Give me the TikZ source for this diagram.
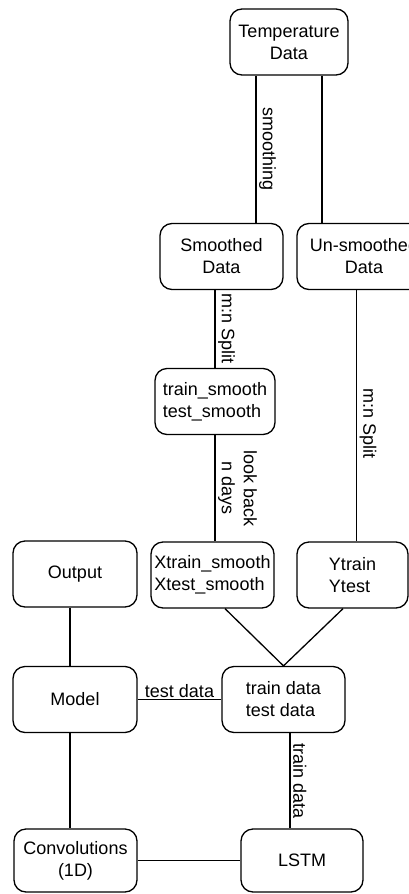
\documentclass[tikz,border=0pt]{standalone}
\usepackage{fontspec}
\setmainfont{Liberation Sans}
\usetikzlibrary{calc}
\definecolor{cInk}{HTML}{000000}
\tikzset{
  rbox/.style={draw=cInk,fill=white,rounded corners=12pt,line width=1.3pt,align=center,text=cInk,minimum width=#1,minimum height=66pt,inner sep=1pt},
  rbox/.default=122pt,
  lbox/.style={rbox=#1,align=left},
  lbox/.default=122pt,
  ln/.style={line width=1.3pt,color=cInk},
  vlbl/.style={text=cInk,inner sep=2.5pt,rotate=-90,align=center,anchor=south},
  lbl/.style={text=cInk,inner sep=1.5pt},
}

\begin{document}
\begin{tikzpicture}[x=1pt,y=-1pt,font=\fontsize{18}{22}\selectfont]
  \fill[white] (0,0) rectangle (409,894);
  \clip (0,0) rectangle (409,894);
  \node[rbox=118pt] (temp) at (289,42) {Temperature\\Data};
  \node[rbox=123pt] (smooth) at (221.5,256.5) {Smoothed\\Data};
  \node[rbox=134pt] (unsm) at (364,256.5) {Un-smoothed\\Data};
  \node[lbox=120pt] (trs) at (215,401.5) {train\_smooth\\test\_smooth};
  \node[lbox=123pt] (xs) at (212.5,575) {Xtrain\_smooth\\Xtest\_smooth};
  \node[lbox=111pt] (ys) at (352.5,575) {Ytrain\\Ytest};
  \node[rbox=124pt] (out) at (75,574) {Output};
  \node[rbox=124pt] (model) at (75,699.5) {Model};
  \node[lbox=123pt] (td) at (283.5,699.5) {train data\\test data};
  \node[rbox=123pt,minimum height=63pt] (conv) at (75.5,860.5) {Convolutions\\(1D)};
  \node[rbox=122pt,minimum height=63pt] (lstm) at (302,860.5) {LSTM};

  \draw[ln] ([xshift=-33pt]temp.south) -- ([xshift=-33pt]temp.south |- smooth.north) node[midway,vlbl] (l1) {smoothing};
  \draw[ln] ([xshift=33pt]temp.south) -- ([xshift=33pt]temp.south |- unsm.north);
  \draw[ln] (trs.north |- smooth.south) -- (trs.north) node[midway,vlbl] (l2) {m:n Split};
  \draw[ln] ([xshift=4pt]ys.north |- unsm.south) -- ([xshift=4pt]ys.north) node[pos=0.53,vlbl] (l3) {m:n Split};
  \draw[ln] (trs.south) -- (trs.south |- xs.north) node[midway,vlbl] (l4) {look back\\n days};
  \draw[ln] ([xshift=12.5pt]xs.south) -- (td.north);
  \draw[ln] ([xshift=-9.5pt]ys.south) -- (td.north);
  \draw[ln] ([xshift=-5pt]out.south) -- ([xshift=-5pt]model.north);
  \draw[ln] (model.east) -- (td.west) node[midway,above,lbl] (l5) {test data};
  \draw[ln] ([xshift=-5pt]model.south) -- ([xshift=-5pt]model.south |- conv.north);
  \draw[ln] ([xshift=6.5pt]td.south) -- ([xshift=6.5pt]td.south |- lstm.north) node[midway,vlbl] (l6) {train data};
  \draw[ln] (conv.east) -- (lstm.west);
\end{tikzpicture}
\end{document}
